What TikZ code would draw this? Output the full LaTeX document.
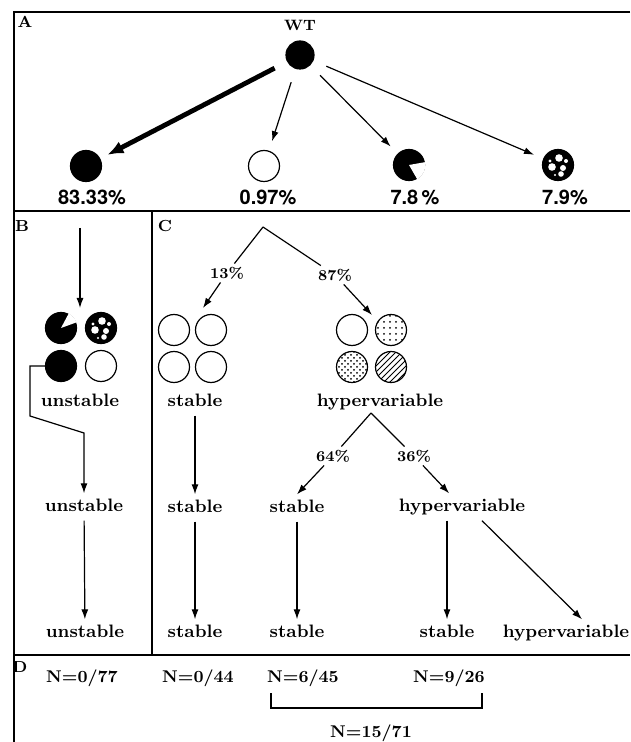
\documentclass[tikz,border=0pt]{standalone}
\usepackage{fontspec}
\newfontfamily\heros{TeX Gyre Heros}
\usetikzlibrary{arrows.meta,patterns}
\begin{document}
\begin{tikzpicture}[x=0.5pt,y=-0.5pt,
    cell/.style={circle, draw, line width=0.6pt, minimum size=15.5pt, inner sep=0pt},
    state/.style={font=\fontsize{9}{10}\selectfont\bfseries, text height=6.5pt, text depth=1.8pt, inner sep=2.5pt},
    pct/.style={font=\fontsize{7.5}{9}\selectfont\bfseries, inner sep=1.5pt},
    apct/.style={font=\fontsize{10}{11}\selectfont\heros\bfseries},
    count/.style={font=\fontsize{8.5}{10}\selectfont\bfseries},
    panel/.style={font=\fontsize{8}{9}\selectfont\bfseries, inner sep=0pt},
    arr/.style={-{Latex[length=5pt,width=3.5pt]}, line width=0.6pt},
    frm/.style={line width=0.8pt}]
\useasboundingbox (0,0) rectangle (630,742);
% frame
\draw[frm] (630,12) -- (14,12) -- (14,742);
\draw[frm] (14,211) -- (630,211);
\draw[line width=1.4pt] (152,211) -- (152,655);
\draw[line width=1.4pt] (14,655) -- (630,655);

% A
\node[panel] (la) at (25,22) {A};
\node[panel, font=\fontsize{7.5}{8}\selectfont\bfseries] (wtl) at (300,25) {WT};
\node[cell, fill=black, minimum size=14pt] (wt) at (300,55) {};
\node[cell, fill=black] (a1) at (86,166) {};
\node[cell] (a2) at (264,166) {};
\node[cell, fill=black] (a3) at (409,165) {};
\node[cell, fill=black] (a4) at (558,165) {};
\node[apct] (pa1) at (92,197) {83.33\%};
\node[apct] (pa2) at (268,197) {0.97\%};
\node[apct] (pa3) at (415,197) {7.8\,\%};
\node[apct] (pa4) at (565,197) {7.9\%};
\draw[line width=2.4pt, -{Latex[length=8pt,width=6.5pt]}, shorten <=7pt, shorten >=4pt] (wt) -- (a1);
\foreach \c in {a2,a3,a4}
  \draw[arr, shorten <=7pt, shorten >=5pt] (wt) -- (\c);

% B
\node[panel] (lb) at (22,226) {B};
\coordinate (bin) at (80,228);
\coordinate (bout) at (80,308);
\draw[arr] (bin) -- (bout);
\node[cell, fill=black] (b1) at (61,328) {};
\node[cell, fill=black] (b2) at (101,328) {};
\node[cell, fill=black] (b3) at (61,366) {};
\node[cell] (b4) at (101,366) {};
\node[state] (u1) at (80,402) {unstable};
\node[state] (u2) at (84,507) {unstable};
\node[state] (u3) at (85,633) {unstable};
\coordinate (bk1) at (30,416);
\coordinate (bk2) at (84,433);
\draw[arr] (b3.west) -| (bk1) -- (bk2) -- (u2);
\draw[arr] (u2) -- (u3);

% sectors and spots
\fill[white] (a3.center) -- ++(10:8.2pt) arc[start angle=10, end angle=-60, radius=8.2pt] -- cycle;
\fill[white] (b1.center) -- ++(20:8.2pt) arc[start angle=20, end angle=62, radius=8.2pt] -- cycle;
\foreach \c in {a4,b2}
  \foreach \dx/\dy/\r in {1/-7/1.9, -6/2/1.9, 5/3/1.5, 3/9/1.4, -8/-4/0.8, 8/-4/1, -3/10/0.6}
    \fill[white] ([shift={(\dx,\dy)}]\c.center) circle[radius=\r pt];

% C
\node[panel] (lc) at (165,226) {C};
\coordinate (cpk) at (263,227);
\node[pct] (p13) at (227,273) {13\%};
\node[pct] (p87) at (335,275) {87\%};
\draw[line width=0.6pt] (cpk) -- (p13);
\draw[line width=0.6pt] (cpk) -- (p87);
\coordinate (sin) at (203,308);
\coordinate (hin) at (372,315);
\draw[arr] (p13) -- (sin);
\draw[arr] (p87) -- (hin);
\node[cell] (c1) at (174,330) {};
\node[cell] (c2) at (211,330) {};
\node[cell] (c3) at (174,367) {};
\node[cell] (c4) at (211,367) {};
\node[cell] (d1) at (352,330) {};
\node[cell, pattern=dots] (d2) at (391,330) {};
\node[cell, pattern=crosshatch dots] (d3) at (352,367) {};
\node[cell, pattern=north east lines] (d4) at (391,367) {};
\node[state] (s1) at (195,402) {stable};
\node[state] (s2) at (195,508) {stable};
\node[state] (s3) at (195,633) {stable};
\draw[arr] (s1) -- (s2);
\draw[arr] (s2) -- (s3);
\node[state] (h1) at (380,402) {hypervariable};
\coordinate (hpk) at (371,413);
\node[pct] (p64) at (333,456) {64\%};
\node[pct] (p36) at (414,456) {36\%};
\draw[line width=0.6pt] (hpk) -- (p64);
\draw[line width=0.6pt] (hpk) -- (p36);
\node[state] (s4) at (297,508) {stable};
\node[state] (h2) at (462,507) {hypervariable};
\draw[arr] (p64) -- (s4.north);
\draw[arr] (p36) -- (h2);
\node[state] (s5) at (297,633) {stable};
\node[state] (s6) at (447,633) {stable};
\node[state] (h3) at (566,633) {hypervariable};
\draw[arr] (s4) -- (s5);
\draw[arr] (s6 |- h2.south) -- (s6);
\draw[arr] ([xshift=10pt]h2.south) -- ([xshift=8pt]h3.north);

% D
\node[panel] (ld) at (20,667) {D};
\node[count] (n1) at (82,678) {N=0/77};
\node[count] (n2) at (198,678) {N=0/44};
\node[count] (n3) at (303,678) {N=6/45};
\node[count] (n4) at (449,678) {N=9/26};
\node[count] (n5) at (371,733) {N=15/71};
\coordinate (bl) at (271,693);
\coordinate (br) at (482,693);
\draw[line width=1.2pt] (bl) -- ++(0,15) -| (br);
\end{tikzpicture}
\end{document}
